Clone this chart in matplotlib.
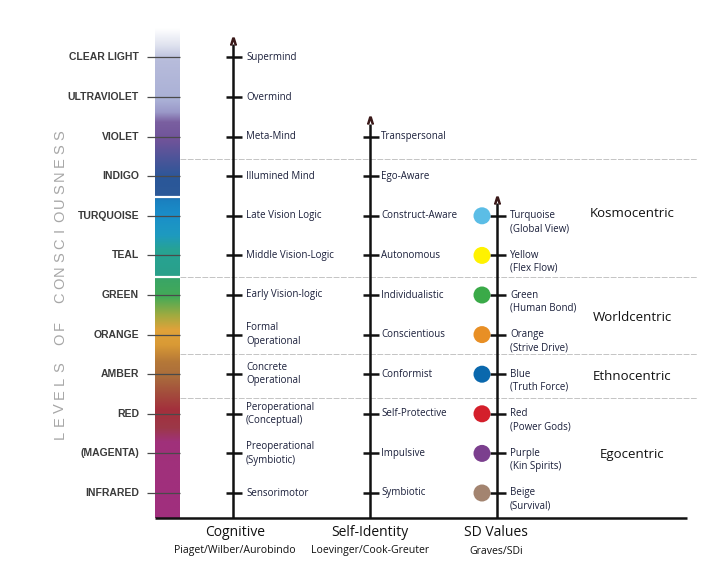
import numpy as np
import matplotlib.pyplot as plt
from matplotlib.colors import to_rgb

plt.rcParams['font.family'] = ['Open Sans', 'DejaVu Sans']

# Levels of consciousness, bottom (0) to top (11)
levels = ["INFRARED", "(MAGENTA)", "RED", "AMBER", "ORANGE", "GREEN",
          "TEAL", "TURQUOISE", "INDIGO", "VIOLET", "ULTRAVIOLET", "CLEAR LIGHT"]

cognitive = ["Sensorimotor", "Preoperational\n(Symbiotic)", "Peroperational\n(Conceptual)",
             "Concrete\nOperational", "Formal\nOperational", "Early Vision-logic",
             "Middle Vision-Logic", "Late Vision Logic", "Illumined Mind", "Meta-Mind",
             "Overmind", "Supermind"]

self_identity = ["Symbiotic", "Impulsive", "Self-Protective", "Conformist", "Conscientious",
                 "Individualistic", "Autonomous", "Construct-Aware", "Ego-Aware", "Transpersonal"]

sd_names = ["Beige", "Purple", "Red", "Blue", "Orange", "Green", "Yellow", "Turquoise"]
sd_subs = ["(Survival)", "(Kin Spirits)", "(Power Gods)", "(Truth Force)",
           "(Strive Drive)", "(Human Bond)", "(Flex Flow)", "(Global View)"]
sd_colors = ["#a38470", "#7b3f8e", "#d41f2b", "#0a68ad", "#e88f25", "#3aaa48", "#fff200", "#5bbde6"]

worldviews = ["Egocentric", "Ethnocentric", "Worldcentric", "Kosmocentric"]
worldview_levels = [0.98, 2.95, 4.42, 7.07]

# boundaries between worldview bands (in level units)
band_edges = [2.4, 3.5, 5.45, 8.43]

columns = ["Cognitive", "Self-Identity", "SD Values"]
column_sources = ["Piaget/Wilber/Aurobindo", "Loevinger/Cook-Greuter", "Graves/SDi"]

side_title = "LEVELS OF CONSCIOUSNESS"

# colour bar stops (level, colour)
bar_stops = [(-0.63, "#a02f7e"), (1.29, "#a0317a"), (1.64, "#9c3848"), (2.10, "#a3303c"),
             (2.47, "#a34a3c"), (2.95, "#aa6d3c"), (3.31, "#b57838"), (3.74, "#d99a35"),
             (4.12, "#e0a23a"), (4.49, "#a0ab40"), (4.95, "#44aa57"), (5.38, "#3aa565"),
             (5.50, "#2aa08a"), (6.14, "#27a394"), (6.52, "#1e9ac0"), (7.0, "#1a8fc9"),
             (7.40, "#1a80c0"), (7.50, "#2c5998"), (7.95, "#2a5798"), (8.41, "#4a5599"),
             (8.91, "#6f5399"), (9.37, "#7a5fa0"), (9.62, "#9a98c8"), (9.92, "#aab0d6"),
             (10.93, "#b7bcdb"), (11.31, "#dfe2ef"), (11.74, "#ffffff")]


def px_to_level(y_px):
    return (493 - y_px) / 39.6


fig = plt.figure(figsize=(7.2, 5.76), dpi=100)
ax = fig.add_axes([0, 0, 1, 1])
ax.set_xlim(0, 720)
ax.set_ylim(px_to_level(576), px_to_level(0))
ax.axis("off")

# gradient colour bar
stop_lv = np.array([s[0] for s in bar_stops])
stop_rgb = np.array([to_rgb(s[1]) for s in bar_stops])
grid = np.linspace(stop_lv[0], stop_lv[-1], 600)
img = np.stack([np.interp(grid, stop_lv, stop_rgb[:, i]) for i in range(3)], axis=1)
ax.imshow(img[::-1, None, :], extent=[155, 180, stop_lv[0], stop_lv[-1]],
          aspect="auto", zorder=1, interpolation="bilinear")
ax.hlines([7.47, 5.45], 155, 180, color="white", lw=1.6, zorder=2)

# level labels
lv = np.arange(len(levels))
ax.hlines(lv, 147, 180, color="#4a4a4a", lw=0.9, zorder=3)
for i, name in enumerate(levels):
    ax.text(139, i, name, ha="right", va="center", fontsize=7.5, fontweight="bold",
            family="Liberation Sans", color="#3a3a3a")

# vertical spaced-out title, one letter at a time
pitch = 13.5
pos = 435.0
for ch in side_title:
    if ch == " ":
        pos -= pitch * 1.1
        continue
    ax.text(60, px_to_level(pos), ch, rotation=90, ha="center", va="center",
            fontsize=10.5, family="Liberation Sans", color="#a6a6a6")
    pos -= pitch

# band separators
ax.hlines(band_edges, 180, 697, color="#c4c4c4", lw=0.7, linestyles=(0, (6, 1.5)), zorder=0)

# baseline
base = px_to_level(518)
ax.hlines(base, 155, 687, color="#111111", lw=1.8, zorder=4)


def draw_axis(x, labels):
    n = len(labels)
    top = n - 1 + 0.33
    ax.vlines(x, base, top, color="#111111", lw=1.8, zorder=4)
    ax.plot([x], [top + 0.08], marker=r"$\wedge$", ms=5, color="#3b1a1a", zorder=5)
    ax.hlines(np.arange(n), x - 7, x + 9, color="#111111", lw=1.8, zorder=4)


draw_axis(233, cognitive)
for i, name in enumerate(cognitive):
    ax.text(246, i, name, ha="left", va="center", fontsize=7, color="#1a1f3a",
            linespacing=1.3)

draw_axis(370, self_identity)
for i, name in enumerate(self_identity):
    ax.text(381, i, name, ha="left", va="center", fontsize=7, color="#1a1f3a")

draw_axis(497, sd_names)
sd_lv = np.arange(len(sd_names))
ax.scatter(np.full(len(sd_names), 482), sd_lv, s=150, c=sd_colors, zorder=6, linewidths=0)
for i, (name, sub) in enumerate(zip(sd_names, sd_subs)):
    ax.text(510, i, name, ha="left", va="center", fontsize=7, color="#1a1f3a")
    ax.text(510, i - 0.33, sub, ha="left", va="center", fontsize=7, color="#1a1f3a")

for name, y in zip(worldviews, worldview_levels):
    ax.text(632, y, name, ha="center", va="center", fontsize=9.5, color="#111111")

# column titles
for x, title, src in zip([235, 370, 496], columns, column_sources):
    ax.text(x, px_to_level(533), title, ha="center", va="center", fontsize=10, color="#111111")
    ax.text(x, px_to_level(551), src, ha="center", va="center", fontsize=7.6, color="#111111")

fig.savefig("out.png", dpi=100)
